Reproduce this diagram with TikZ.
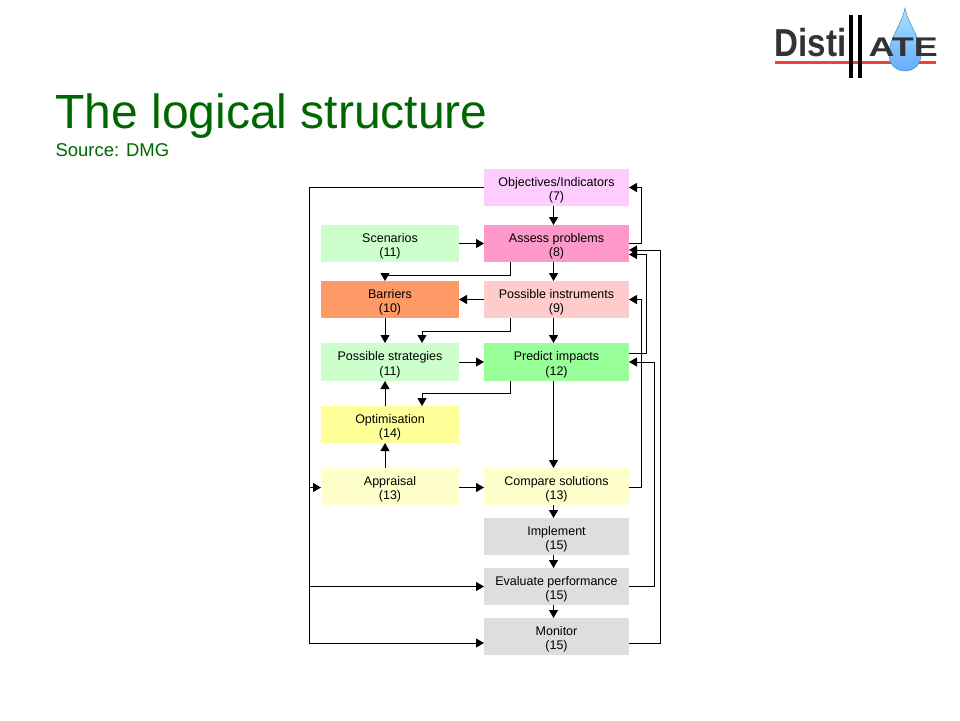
\documentclass[tikz,border=0pt]{standalone}
\usepackage{fontspec}
\setmainfont{Liberation Sans}
\usetikzlibrary{positioning}
\usetikzlibrary{arrows.meta}
\usetikzlibrary{shadings}
\definecolor{titlegreen}{HTML}{006600}
\definecolor{logotext}{HTML}{333333}
\definecolor{logored}{HTML}{F04040}
\tikzset{>={Triangle[length=8pt,width=9pt]}}
\tikzset{blk/.style={minimum width=145pt, minimum height=37pt, inner sep=0pt, outer sep=0pt, align=center, font=\fontsize{12.5}{14.5}\selectfont, text height=29.5pt}}
\tikzset{lblk/.style={blk, minimum width=138pt}}
\tikzset{gblk/.style={blk, fill=black!13}}
\begin{document}
\begin{tikzpicture}[x=1pt,y=-1pt,line width=1pt]
\useasboundingbox (0,0) rectangle (960,720);

\node (title) [anchor=base west, inner sep=0pt, text=titlegreen, font=\fontsize{48}{50}\selectfont] at (55,128) {The logical structure};
\node (source) [anchor=base west, inner sep=0pt, text=titlegreen, font=\fontsize{18.5}{20}\selectfont] at (55,156) {Source: DMG};

% logo
\fill[logored] (775,61.2) rectangle (936,63.8);
\path[top color=blue!30!cyan!35!white, bottom color=blue!55!cyan!60!white, draw=blue!40!cyan!40!gray, line width=0.5pt]
  (905,8) .. controls (908,24) and (921,38) .. (921,55) .. controls (921,65) and (913,71) .. (905,71)
  .. controls (897,71) and (889,65) .. (889,55) .. controls (889,38) and (902,24) .. (905,8) -- cycle;
\node (disti) [anchor=base west, inner sep=0pt, text=logotext, font=\fontsize{39}{40}\selectfont\bfseries, xscale=0.85, transform shape] at (774,56) {Disti};
\node (ate) [anchor=base west, inner sep=0pt, text=logotext, font=\fontsize{27}{28}\selectfont\bfseries, xscale=1.33, transform shape] at (868,56) {ATE};
\fill[black] (849,15) rectangle (853,78);
\fill[black] (858,15) rectangle (862,78);

% right column
\node (obj) [blk, fill={rgb,255:red,255;green,204;blue,255}] at (556.5,187.5) {Objectives/Indicators\\(7)};
\node (assess) [blk, fill={rgb,255:red,255;green,153;blue,204}, below=19pt of obj] {Assess problems\\(8)};
\node (instr) [blk, fill={rgb,255:red,255;green,204;blue,204}, below=19pt of assess] {Possible instruments\\(9)};
\node (predict) [blk, minimum height=38pt, fill={rgb,255:red,153;green,255;blue,153}, below=25pt of instr] {Predict impacts\\(12)};
\node (compare) [blk, fill={rgb,255:red,255;green,255;blue,204}, below=87pt of predict] {Compare solutions\\(13)};
\node (impl) [gblk, below=13pt of compare] {Implement\\(15)};
\node (eval) [gblk, below=13pt of impl] {Evaluate performance\\(15)};
\node (monitor) [gblk, below=13pt of eval] {Monitor\\(15)};

% left column
\node (scen) [lblk, fill={rgb,255:red,204;green,255;blue,204}, left=25pt of assess] {Scenarios\\(11)};
\node (barriers) [lblk, fill={rgb,255:red,255;green,153;blue,102}, left=25pt of instr] {Barriers\\(10)};
\node (strat) [lblk, minimum height=38pt, fill={rgb,255:red,204;green,255;blue,204}, left=25pt of predict] {Possible strategies\\(11)};
\node (optim) [lblk, fill={rgb,255:red,255;green,255;blue,153}, below=25pt of strat] {Optimisation\\(14)};
\node (appr) [lblk, fill={rgb,255:red,255;green,255;blue,204}, left=25pt of compare] {Appraisal\\(13)};

\coordinate (busl) at (309,400);
\coordinate (busa) at (641.5,400);
\coordinate (busb) at (646.5,400);
\coordinate (busc) at (654.5,400);
\coordinate (busd) at (660.5,400);

\draw[->] ([xshift=-3pt]obj.south) -- ([xshift=-3pt]assess.north);
\draw[->] ([xshift=-3pt]assess.south) -- ([xshift=-3pt]instr.north);
\draw[->] ([xshift=-3pt]instr.south) -- ([xshift=-3pt]predict.north);
\draw[->] ([xshift=-3pt]predict.south) -- ([xshift=-3pt]compare.north);
\draw[->] ([xshift=-3pt]compare.south) -- ([xshift=-3pt]impl.north);
\draw[->] ([xshift=-3pt]impl.south) -- ([xshift=-3pt]eval.north);
\draw[->] ([xshift=-3pt]eval.south) -- ([xshift=-3pt]monitor.north);

\draw[->] (scen) -- (assess);
\draw[->] (instr) -- (barriers);
\draw[->] (strat) -- (predict);
\draw[->] ([yshift=-1pt]appr.east) -- ([yshift=-1pt]compare.west);
\draw[->] ([xshift=-5pt]barriers.south) -- ([xshift=-5pt]strat.north);
\draw[->] ([xshift=-5pt]optim.north) -- ([xshift=-5pt]strat.south);
\draw[->] ([xshift=-5pt]appr.north) -- ([xshift=-5pt]optim.south);

\draw[->] ([xshift=-46.5pt]assess.south) -- ++(0,13) -| ([xshift=-5pt]barriers.north);
\draw[->] ([xshift=-46.5pt]instr.south) -- ++(0,13) -| ([xshift=32pt]strat.north);
\draw[->] ([xshift=-46.5pt]predict.south) -- ++(0,12.5) -| ([xshift=32pt]optim.north);

\draw[->] (obj.west) -- (obj.west -| busl) |- ([yshift=-6.5pt]monitor.west);
\draw[->] ([yshift=-1pt]appr.west -| busl) -- ([yshift=-1pt]appr.west);
\draw[->] (eval.west -| busl) -- (eval.west);

\draw[->] (assess.east) -- (assess.east -| busa) |- (obj.east);
\draw[->] ([yshift=-1pt]compare.east) -- ([yshift=-1pt]compare.east -| busa) |- (instr.east);
\draw[->] ([yshift=9pt]predict.east) -- ([yshift=9pt]predict.east -| busb) |- ([yshift=-11pt]assess.east);
\draw[->] (eval.east) -- (eval.east -| busc) |- (predict.east);
\draw[->] ([yshift=-6.5pt]monitor.east) -- ([yshift=-6.5pt]monitor.east -| busd) |- ([yshift=-6.5pt]assess.east);
\end{tikzpicture}
\end{document}
